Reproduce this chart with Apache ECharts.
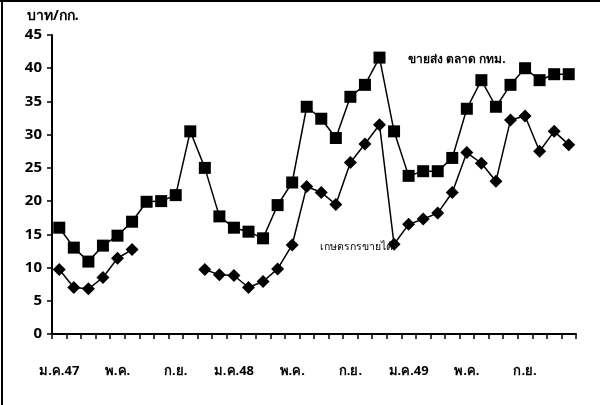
<!DOCTYPE html>
<html><head><meta charset="utf-8">
<script src="https://cdn.jsdelivr.net/npm/echarts@6/dist/echarts.min.js"></script>
<style>html,body{margin:0;padding:0;background:#fff}#c{width:600px;height:405px}</style>
</head><body><div id="c"></div>
<script>
const months = ["ม.ค.47","ก.พ.","มี.ค.","เม.ย.","พ.ค.","มิ.ย.","ก.ค.","ส.ค.","ก.ย.","ต.ค.","พ.ย.","ธ.ค.",
"ม.ค.48","ก.พ.","มี.ค.","เม.ย.","พ.ค.","มิ.ย.","ก.ค.","ส.ค.","ก.ย.","ต.ค.","พ.ย.","ธ.ค.",
"ม.ค.49","ก.พ.","มี.ค.","เม.ย.","พ.ค.","มิ.ย.","ก.ค.","ส.ค.","ก.ย.","ต.ค.","พ.ย.","ธ.ค."];
const wholesale = [16.0,13.0,10.9,13.3,14.8,16.9,19.9,20.0,20.9,30.5,25.0,17.7,
16.0,15.4,14.4,19.4,22.8,34.2,32.4,29.5,35.7,37.5,41.6,30.5,
23.8,24.5,24.5,26.5,33.9,38.2,34.2,37.5,40.0,38.2,39.1,39.1];
const farmer = [9.7,7.0,6.8,8.5,11.4,12.7,null,null,null,null,9.7,8.9,
8.8,7.0,7.9,9.8,13.4,22.2,21.3,19.5,25.8,28.6,31.5,13.5,
16.5,17.3,18.2,21.3,27.3,25.7,23.0,32.2,32.8,27.5,30.5,28.5];
const unitLabel = "บาท/กก.";
const wholesaleLabel = "ขายส่ง ตลาด กทม.";
const farmerLabel = "เกษตรกรขายได้";

const chart = echarts.init(document.getElementById('c'));
const ff = "Noto Sans, sans-serif";
chart.setOption({
  animation:false,
  grid:{left:52,right:24,top:35,bottom:71},
  xAxis:{type:'category',data:months,boundaryGap:true,
    axisLine:{lineStyle:{color:'#000',width:2}},
    axisTick:{show:true,interval:0,length:5,lineStyle:{color:'#000',width:1.5}},
    axisLabel:{interval:3,color:'#000',fontWeight:'bold',fontSize:13,fontFamily:ff,margin:31},
    splitLine:{show:false}},
  yAxis:{type:'value',min:0,max:45,interval:5,
    axisLine:{show:true,lineStyle:{color:'#000',width:2}},
    axisTick:{show:true,length:5,lineStyle:{color:'#000',width:1.5}},
    axisLabel:{color:'#000',fontWeight:'bold',fontSize:15,fontFamily:ff,margin:10},
    splitLine:{show:false}},
  series:[
    {type:'line',data:wholesale,symbol:'rect',symbolSize:12,showAllSymbol:true,
     lineStyle:{color:'#000',width:1.5},itemStyle:{color:'#000'}},
    {type:'line',data:farmer,symbol:'diamond',symbolSize:13,showAllSymbol:true,connectNulls:false,
     lineStyle:{color:'#000',width:1.5},itemStyle:{color:'#000'}}
  ],
  graphic:[
    {type:'line',shape:{x1:2,y1:0,x2:2,y2:405},style:{stroke:'#000',lineWidth:2}},
    {type:'line',shape:{x1:0,y1:1,x2:600,y2:1},style:{stroke:'#000',lineWidth:2}},
    {type:'text',left:27,top:9,style:{text:unitLabel,fill:'#000',font:'bold 14px '+ff}},
    {type:'text',left:408,top:54,style:{text:wholesaleLabel,fill:'#000',font:'bold 12px '+ff}},
    {type:'text',left:320,top:242,style:{text:farmerLabel,fill:'#000',font:'10.5px '+ff}}
  ]
});
</script></body></html>
